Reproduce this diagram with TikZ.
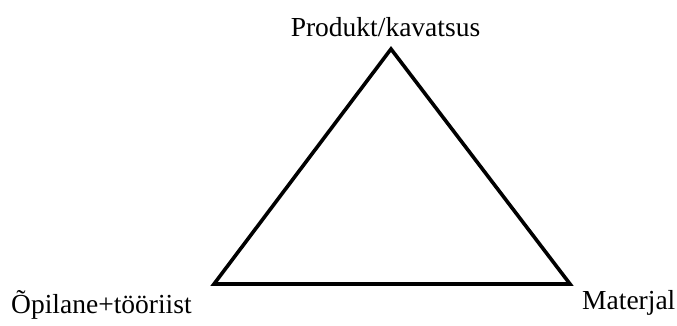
\documentclass[tikz,border=0pt]{standalone}
\usepackage{fontspec}
\setmainfont{Liberation Serif}
\begin{document}
\begin{tikzpicture}[x=1pt,y=-1pt,
  lbl/.style={inner sep=0pt, font=\fontsize{27.5}{32}\selectfont},
  tri/.style={line width=3.6pt, line join=miter}]
\useasboundingbox (0,0) rectangle (677,325);
\coordinate (top) at (391,49);
\coordinate (left) at (214,284);
\coordinate (right) at (570,284);
\draw[tri] (top) -- (right) -- (left) -- cycle;
\node[lbl, anchor=base] (p) at (385.5,36) {Produkt/kavatsus};
\node[lbl, anchor=base west] (o) at (11,313) {Õpilane+tööriist};
\node[lbl, anchor=base west] (m) at (582,309) {Materjal};
\end{tikzpicture}
\end{document}
